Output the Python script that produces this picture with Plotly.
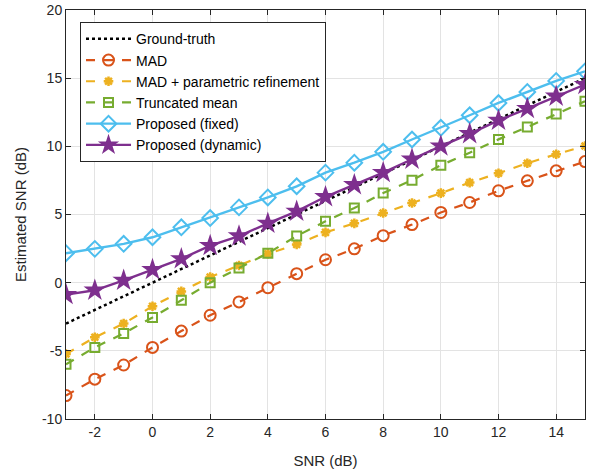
import plotly.graph_objects as go

snr = [-3, -2, -1, 0, 1, 2, 3, 4, 5, 6, 7, 8, 9, 10, 11, 12, 13, 14, 15]
ground_truth = [-3, -2, -1, 0, 1, 2, 3, 4, 5, 6, 7, 8, 9, 10, 11, 12, 13, 14, 15]
mad = [-8.28, -7.08, -6.04, -4.75, -3.55, -2.39, -1.41, -0.37, 0.66, 1.68, 2.48,
       3.45, 4.26, 5.15, 5.88, 6.74, 7.47, 8.2, 8.88]
mad_param = [-5.23, -4.01, -3.0, -1.73, -0.64, 0.41, 1.26, 2.12, 2.8, 3.69, 4.35,
             5.11, 5.84, 6.57, 7.34, 8.03, 8.76, 9.42, 10.02]
trunc_mean = [-5.99, -4.75, -3.72, -2.55, -1.29, 0.0, 1.07, 2.16, 3.42, 4.5, 5.47,
              6.57, 7.52, 8.61, 9.53, 10.51, 11.41, 12.38, 13.31]
prop_fixed = [2.16, 2.48, 2.85, 3.33, 4.06, 4.74, 5.52, 6.25, 7.07, 8.07, 8.8,
              9.6, 10.5, 11.36, 12.28, 13.18, 13.99, 14.8, 15.5]
prop_dynamic = [-0.88, -0.56, 0.17, 0.95, 1.75, 2.72, 3.42, 4.35, 5.23, 6.3, 7.18,
                8.07, 9.05, 10.02, 10.92, 11.9, 12.77, 13.67, 14.53]

x_ticks = [-2, 0, 2, 4, 6, 8, 10, 12, 14]
y_ticks = [-10, -5, 0, 5, 10, 15, 20]

FONT = "Liberation Sans, Arial, sans-serif"

fig = go.Figure()
fig.add_trace(go.Scatter(x=snr, y=ground_truth, mode="lines", name="Ground-truth",
                         line=dict(color="black", width=2.5, dash="dot")))
fig.add_trace(go.Scatter(x=snr, y=mad, mode="lines+markers", name="MAD",
                         line=dict(color="#D95319", width=2.2, dash="dash"),
                         marker=dict(symbol="circle-open", size=11, color="#D95319",
                                     line=dict(width=2))))
fig.add_trace(go.Scatter(x=snr, y=mad_param, mode="lines+markers",
                         name="MAD + parametric refinement",
                         line=dict(color="#EDB120", width=2.2, dash="dash"),
                         marker=dict(symbol="asterisk-open", size=8, color="#EDB120",
                                     line=dict(width=2.5, color="#EDB120"))))
fig.add_trace(go.Scatter(x=snr, y=trunc_mean, mode="lines+markers",
                         name="Truncated mean",
                         line=dict(color="#77AC30", width=2.2, dash="dash"),
                         marker=dict(symbol="square-open", size=9, color="#77AC30",
                                     line=dict(width=2))))
fig.add_trace(go.Scatter(x=snr, y=prop_fixed, mode="lines+markers",
                         name="Proposed (fixed)",
                         line=dict(color="#4DBEEE", width=2.4),
                         marker=dict(symbol="diamond-open", size=12, color="#4DBEEE",
                                     line=dict(width=2))))
fig.add_trace(go.Scatter(x=snr, y=prop_dynamic, mode="lines+markers",
                         name="Proposed (dynamic)",
                         line=dict(color="#7E2F8E", width=2.4),
                         marker=dict(symbol="star", size=17, color="#7E2F8E",
                                     line=dict(width=0))))

axis_common = dict(
    showgrid=True, gridcolor="#E3E3E3", gridwidth=1,
    showline=True, linecolor="#262626", linewidth=1, mirror="allticks",
    ticks="inside", ticklen=5, tickcolor="#262626", tickwidth=1,
    tickfont=dict(family=FONT, size=14, color="#262626"),
    zeroline=False, automargin=False,
)

fig.update_layout(
    template="none",
    width=597, height=469,
    margin=dict(l=66, r=12, t=10, b=50),
    paper_bgcolor="white", plot_bgcolor="white",
    font=dict(family=FONT, size=14, color="#262626"),
    xaxis=dict(range=[-3, 15], tickvals=x_ticks,
               ticktext=[str(v) for v in x_ticks],
               title=dict(text="SNR (dB)", font=dict(size=15)),
               **axis_common),
    yaxis=dict(range=[-10, 20], tickvals=y_ticks,
               ticktext=[str(v) for v in y_ticks],
               title=dict(text="Estimated SNR (dB)", font=dict(size=15)),
               **axis_common),
    legend=dict(x=0.027, y=0.97, xanchor="left", yanchor="top",
                bgcolor="white", bordercolor="#262626", borderwidth=1,
                font=dict(family=FONT, size=14, color="#000000"), itemwidth=45,
                tracegroupgap=0),
    showlegend=True,
)

fig.write_html("out.html",
               config={"displayModeBar": False, "staticPlot": True},
               post_script="document.body.style.margin='0';document.body.style.overflow='hidden';")
